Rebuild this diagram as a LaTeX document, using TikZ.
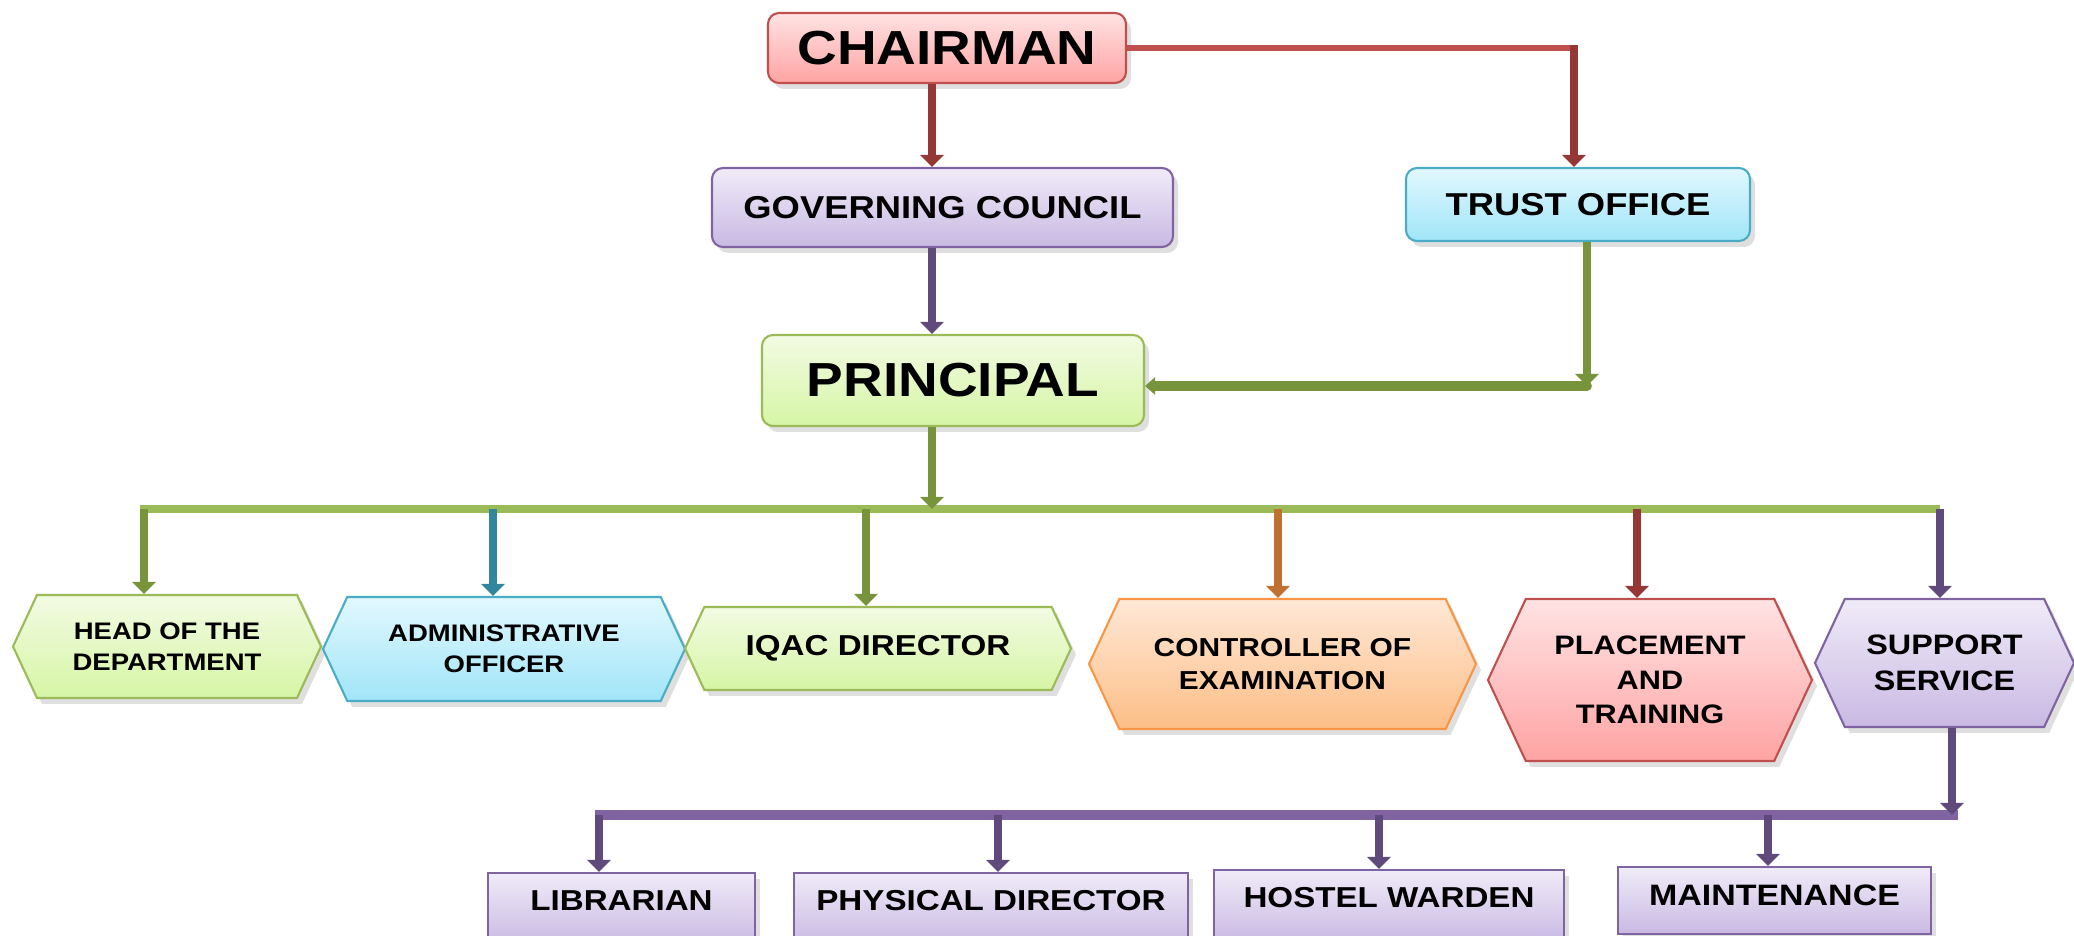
\documentclass[tikz,border=0pt]{standalone}
\usepackage{fontspec}
\setmainfont{Liberation Sans}[FakeStretch=1.15]
\usetikzlibrary{arrows.meta,shapes.symbols,shadows}

% line colours
\definecolor{redline}{HTML}{C0504D}
\definecolor{redarrow}{HTML}{953735}
\definecolor{purpleline}{HTML}{8064A2}
\definecolor{purplearrow}{HTML}{604A7B}
\definecolor{greenline}{HTML}{9BBB59}
\definecolor{greenarrow}{HTML}{77933C}
\definecolor{blueline}{HTML}{4BACC6}
\definecolor{bluearrow}{HTML}{31859C}
\definecolor{orangeline}{HTML}{F79646}
\definecolor{orangearrow}{HTML}{C0702F}
% fill colours (top / bottom of the gradient)
\definecolor{redtop}{HTML}{FFE3E3}
\definecolor{redbot}{HTML}{FFA3A3}
\definecolor{purpletop}{HTML}{F0EBF8}
\definecolor{purplebot}{HTML}{C9B9E3}
\definecolor{greentop}{HTML}{F2FBE3}
\definecolor{greenbot}{HTML}{D6F5A5}
\definecolor{bluetop}{HTML}{E2F8FE}
\definecolor{bluebot}{HTML}{A0E5F8}
\definecolor{orangetop}{HTML}{FFE8D6}
\definecolor{orangebot}{HTML}{FCBE86}

\begin{document}
\begin{tikzpicture}[
    softshadow/.style={drop shadow={opacity=0.25, shadow xshift=0.5mm, shadow yshift=-0.6mm}},
    box/.style={rectangle, draw=#1line, line width=0.6pt, top color=#1top, bottom color=#1bot,
      rounded corners=1.1mm, inner sep=0pt, softshadow},
    hexbox/.style={signal, signal to=west and east, signal pointer angle=130,
      draw=#1line, line width=0.6pt, top color=#1top, bottom color=#1bot,
      inner sep=0pt, align=center, softshadow},
    staffbox/.style={rectangle, draw=purpleline, line width=0.6pt, top color=purpletop,
      bottom color=purplebot, inner sep=0pt, text height=3.73mm, text depth=3.5mm,
      anchor=north, softshadow, font=\bfseries\fontsize{8.2}{10}\selectfont},
    arr/.style={line width=2.4pt, -{Triangle[width=2.3mm,length=1.2mm]}}
  ]
  \useasboundingbox (0,0) rectangle (20.74,-9.36);

  % Top of the chart
  \node[box=red, minimum width=3.58cm, minimum height=0.70cm,
    font=\bfseries\fontsize{13.6}{16}\selectfont] (chairman) at (9.47,-0.48) {CHAIRMAN};
  \node[box=purple, minimum width=4.61cm, minimum height=0.79cm,
    font=\bfseries\fontsize{9}{11}\selectfont] (council) at (9.425,-2.075) {GOVERNING COUNCIL};
  \node[box=blue, minimum width=3.44cm, minimum height=0.73cm,
    font=\bfseries\fontsize{9}{11}\selectfont] (trust) at (15.78,-2.045) {TRUST OFFICE};
  \node[box=green, minimum width=3.82cm, minimum height=0.91cm,
    font=\bfseries\fontsize{13.6}{16}\selectfont] (principal) at (9.53,-3.805) {PRINCIPAL};

  % Departments (hexagons)
  \node[hexbox=green, minimum width=3.08cm, minimum height=1.03cm,
    font=\bfseries\fontsize{6.8}{8.7}\selectfont] (hod) at (1.67,-6.465) {HEAD OF THE\\DEPARTMENT};
  \node[hexbox=blue, minimum width=3.62cm, minimum height=1.04cm,
    font=\bfseries\fontsize{6.8}{8.7}\selectfont] (admin) at (5.04,-6.49) {ADMINISTRATIVE\\OFFICER};
  \node[hexbox=green, minimum width=3.86cm, minimum height=0.83cm,
    font=\bfseries\fontsize{8.2}{10}\selectfont] (iqac) at (8.78,-6.485) {IQAC DIRECTOR};
  \node[hexbox=orange, minimum width=3.87cm, minimum height=1.30cm,
    font=\bfseries\fontsize{7.4}{9.5}\selectfont] (coe) at (12.825,-6.64) {CONTROLLER OF\\EXAMINATION};
  \node[hexbox=red, minimum width=3.24cm, minimum height=1.62cm,
    font=\bfseries\fontsize{7.6}{9.8}\selectfont] (placement) at (16.50,-6.80) {PLACEMENT\\AND\\TRAINING};
  \node[hexbox=purple, minimum width=2.59cm, minimum height=1.28cm,
    font=\bfseries\fontsize{8}{10.2}\selectfont] (support) at (19.445,-6.63) {SUPPORT\\SERVICE};

  % Support staff (cut by the lower edge)
  \node[staffbox, minimum width=2.67cm] (librarian) at (6.215,-8.72) {LIBRARIAN};
  \node[staffbox, minimum width=3.94cm] (physical) at (9.91,-8.72) {PHYSICAL DIRECTOR};
  \node[staffbox, minimum width=3.50cm] (warden) at (13.89,-8.69) {HOSTEL WARDEN};
  \node[staffbox, minimum width=3.13cm, text height=3.83mm, text depth=2.9mm,
    font=\bfseries\fontsize{8.4}{10}\selectfont] (maintenance) at (17.745,-8.66) {MAINTENANCE};

  % Chairman down to council and across to the trust
  \coordinate (spine) at (9.32,0);
  \coordinate (corner) at (15.74,-0.48);
  \draw[redline, line width=1.9pt] (chairman.east) -- ([xshift=1.2pt]corner);
  \draw[arr, redarrow] ([yshift=0.95pt]corner) -- (corner |- trust.north);
  \draw[arr, redarrow] (chairman.south -| spine) -- (council.north -| spine);
  \draw[arr, purplearrow] (council.south -| spine) -- (principal.north -| spine);

  % Trust office back to the principal
  \coordinate (bend) at (15.87,-3.86);
  \draw[arr, greenarrow] (trust.south -| bend) -- (bend);
  \draw[greenarrow, line width=2.8pt, line cap=round,
    -{Triangle[width=1.7mm,length=1mm]}] (bend) -- (principal.east |- bend);

  % Green bus under the principal
  \coordinate (busW) at (1.40,-5.09);
  \coordinate (busE) at (19.40,-5.09);
  \draw[greenline, line width=2.3pt] (busW) -- (busE);
  \draw[arr, greenarrow] (principal.south -| spine) -- (spine |- busW);
  \foreach \n/\x/\c in {hod/1.44/greenarrow, admin/4.93/bluearrow, iqac/8.66/greenarrow,
      coe/12.78/orangearrow, placement/16.37/redarrow, support/19.40/purplearrow}
    \draw[arr, \c] (\x,-5.09) -- (\x,0 |- \n.north);

  % Purple bus under support service
  \coordinate (subW) at (5.95,-8.15);
  \coordinate (subE) at (19.58,-8.15);
  \draw[purpleline, line width=2.6pt] (subW) -- (subE);
  \draw[arr, purplearrow] (19.52,0 |- support.south) -- (19.52,-8.15);
  \foreach \n/\x in {librarian/5.99, physical/9.98, warden/13.79, maintenance/17.68}
    \draw[arr, purplearrow] (\x,-8.15) -- (\x,0 |- \n.north);
\end{tikzpicture}
\end{document}
